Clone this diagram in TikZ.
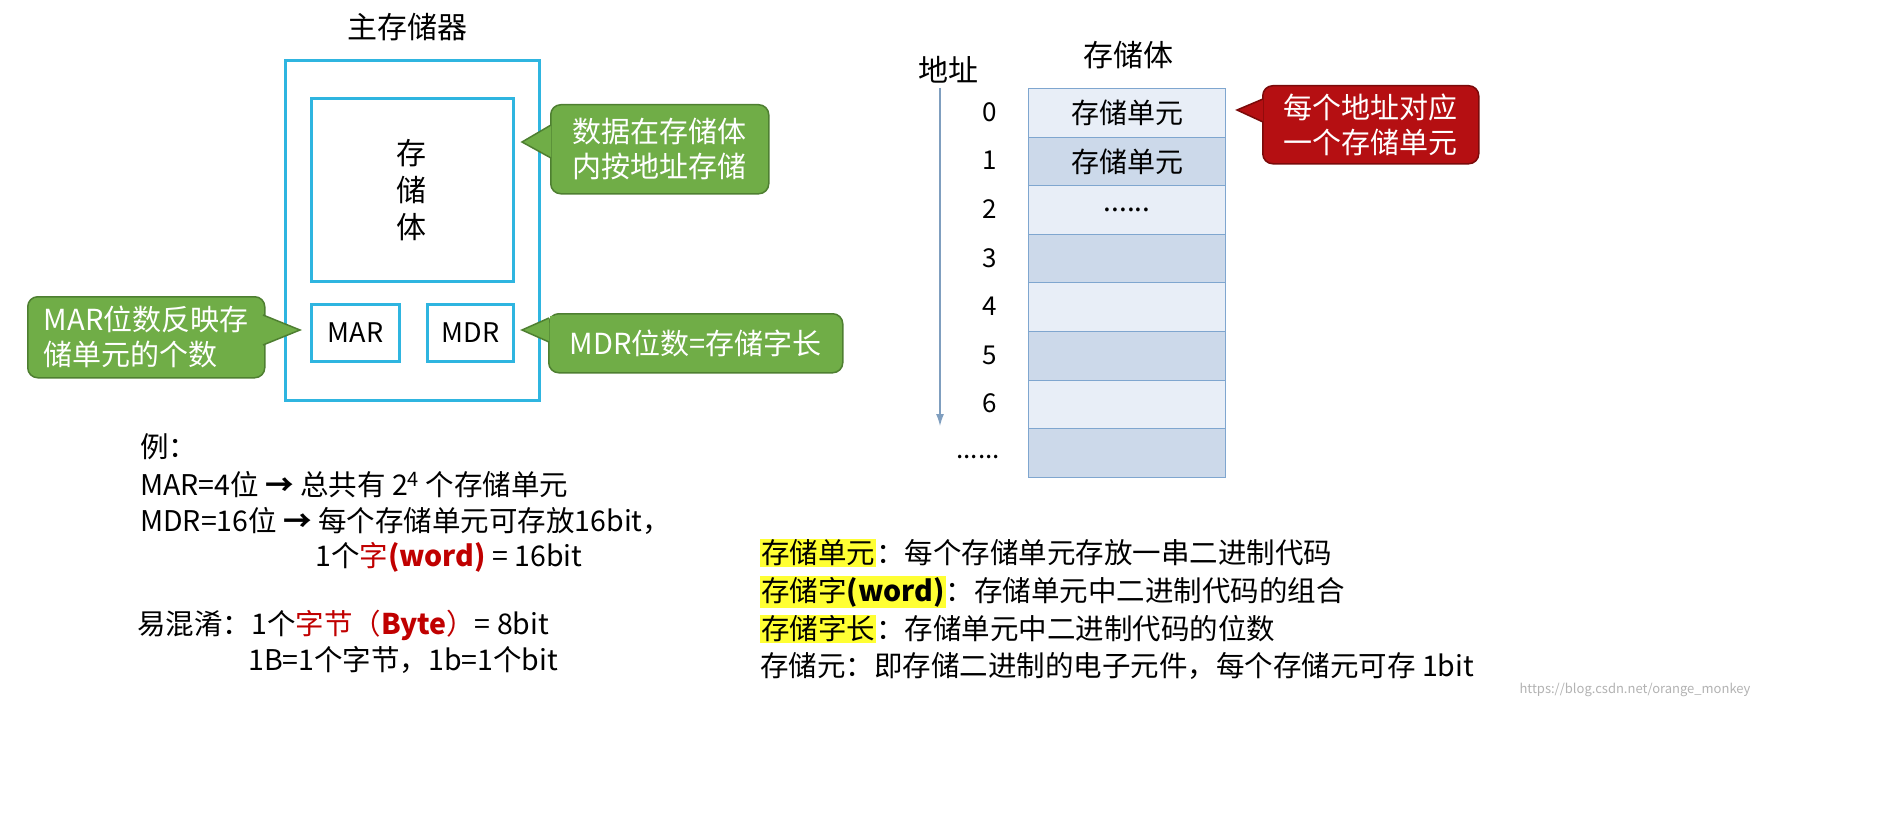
\documentclass[tikz,border=0pt]{standalone}
\usepackage{fontspec}
\usetikzlibrary{arrows.meta}
\setmainfont{Noto Sans CJK SC}
\definecolor{cy}{HTML}{2FB5E0}
\definecolor{gf}{HTML}{70AD47}
\definecolor{gd}{HTML}{4E7F31}
\definecolor{rf}{HTML}{B50F12}
\definecolor{rd}{HTML}{7A0A0A}
\definecolor{tl}{HTML}{E8EEF7}
\definecolor{td}{HTML}{CCD9EA}
\definecolor{tb}{HTML}{7FA6CF}
\definecolor{hl}{HTML}{FFFF33}
\definecolor{wr}{HTML}{C00000}
\newcommand{\mydots}{......}
\begin{document}
\begin{tikzpicture}[x=1pt,y=-1pt,
 big/.style={font=\fontsize{30}{36}\selectfont},
 txt/.style={font=\fontsize{28.5}{32}\selectfont,anchor=west,inner sep=0},
 gcall/.style={fill=gf,draw=gd,line width=1.5,rounded corners=10,text=white,align=left,font=\fontsize{29}{35}\selectfont,inner sep=0},
 rcall/.style={fill=rf,draw=rd,line width=1.5,rounded corners=10,text=white,align=left,font=\fontsize{29}{35}\selectfont,inner sep=0},
 cbox/.style={draw=cy,line width=3,inner sep=0},
 row/.style={draw=tb,line width=1,minimum width=197,minimum height=48.6,inner sep=0,anchor=north west,font=\fontsize{28}{32}\selectfont},
 num/.style={font=\fontsize{26}{30}\selectfont}]
\useasboundingbox (0,0) rectangle (1879,840);
% left memory
\node[big] (title) at (407,27) {主存储器};
\node[cbox,minimum width=254,minimum height=340,anchor=north west] (outer) at (284,59) {};
\node[cbox,minimum width=202,minimum height=183,anchor=north west] (body) at (310,97) {};
\node[big,align=center] (bodyt) at (411,190) {存\\[1pt]储\\[1pt]体};
\node[cbox,minimum width=88,minimum height=57,anchor=north west,font=\fontsize{27}{30}\selectfont] (mar) at (310,303) {MAR};
\node[cbox,minimum width=86,minimum height=57,anchor=north west,font=\fontsize{27}{30}\selectfont] (mdr) at (426,303) {MDR};
% callouts
\node[gcall,minimum width=218,minimum height=89,anchor=north west] (c1) at (550,104) {数据在存储体\\内按地址存储};
\coordinate (p1) at (522,142);
\filldraw[fill=gf,draw=gd,line width=1.5] (551,125) -- (p1) -- (551,158);
\fill[gf] (552,123) rectangle (556,160);
\node[gcall,minimum width=237,minimum height=81,anchor=north west] (c2) at (27,296) {MAR位数反映存\\储单元的个数};
\coordinate (p2) at (300,330);
\filldraw[fill=gf,draw=gd,line width=1.5] (263,315) -- (p2) -- (263,345);
\fill[gf] (258,313) rectangle (262,347);
\node[gcall,minimum width=294,minimum height=59,anchor=north west] (c3) at (548,313) {MDR位数=存储字长};
\coordinate (p3) at (522,330);
\filldraw[fill=gf,draw=gd,line width=1.5] (549,318) -- (p3) -- (549,342);
\fill[gf] (550,316) rectangle (554,344);
% right table
\node[big] (st) at (1128,55) {存储体};
\node[big] (addr) at (948,70) {地址};
\foreach \i/\c/\t in {0/tl/存储单元,1/td/存储单元,2/tl/\mydots,3/td/{},4/tl/{},5/td/{},6/tl/{},7/td/{}}{
  \node[row,fill=\c] (r\i) at (1028,{88+\i*48.6}) {\t};
}
\foreach \i in {0,1,2,3,4,5,6}{
  \node[num] (n\i) at (990,{112+\i*48.6}) {\i};
}
\node[num] (n7) at (978,457) {\mydots};
\coordinate (a0) at (940,88);
\coordinate (a1) at (940,426);
\draw[-{Latex[length=12,width=8]},draw=tb!80!gray,line width=1.2] (a0) -- (a1);
\node[rcall,minimum width=216,minimum height=78,anchor=north west] (rc) at (1262,85) {每个地址对应\\一个存储单元};
\coordinate (p4) at (1237,110);
\filldraw[fill=rf,draw=rd,line width=1.5] (1263,99) -- (p4) -- (1263,122);
\fill[rf] (1264,97) rectangle (1268,124);
% bottom left text
\node[txt] (e0) at (140,447) {例：};
\node[txt] (e1) at (140,485) {MAR=4位 \textbf{→} 总共有 2\textsuperscript{4} 个存储单元};
\node[txt] (e2) at (140,521) {MDR=16位 \textbf{→} 每个存储单元可存放16bit，};
\node[txt] (e3) at (315,557) {1个\textcolor{wr}{字\textbf{(word)}} = 16bit};
\node[txt] (e4) at (137,625) {易混淆：1个\textcolor{wr}{字节（\textbf{Byte}）}= 8bit};
\node[txt] (e5) at (248,660) {1B=1个字节，1b=1个bit};
% bottom right
\node[txt] (d1) at (760,553) {\setlength{\fboxsep}{1pt}\colorbox{hl}{存储单元}：每个存储单元存放一串二进制代码};
\node[txt] (d2) at (760,592) {\setlength{\fboxsep}{1pt}\colorbox{hl}{存储字\textbf{(word)}}：存储单元中二进制代码的组合};
\node[txt] (d3) at (760,629) {\setlength{\fboxsep}{1pt}\colorbox{hl}{存储字长}：存储单元中二进制代码的位数};
\node[txt] (d4) at (760,666) {存储元：即存储二进制的电子元件，每个存储元可存 1bit};
\node[font=\fontsize{13}{15}\selectfont,text=gray!60] (wm) at (1635,690) {https://blog.csdn.net/orange\_monkey};
\end{tikzpicture}
\end{document}
